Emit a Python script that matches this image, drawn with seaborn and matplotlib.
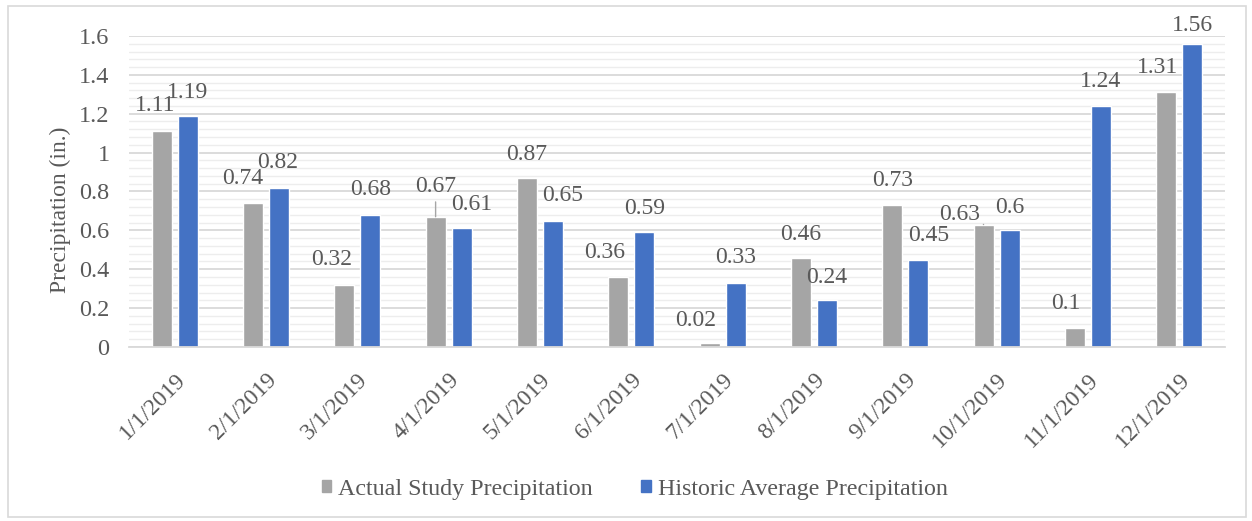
import pandas as pd
import numpy as np
import matplotlib.pyplot as plt
import matplotlib.patches as mpatches
from matplotlib.ticker import MultipleLocator
import seaborn as sns

# Monthly precipitation data (inches)
months = ['1/1/2019', '2/1/2019', '3/1/2019', '4/1/2019', '5/1/2019', '6/1/2019',
          '7/1/2019', '8/1/2019', '9/1/2019', '10/1/2019', '11/1/2019', '12/1/2019']
actual = [1.11, 0.74, 0.32, 0.67, 0.87, 0.36, 0.02, 0.46, 0.73, 0.63, 0.10, 1.31]
historic = [1.19, 0.82, 0.68, 0.61, 0.65, 0.59, 0.33, 0.24, 0.45, 0.60, 1.24, 1.56]
series = ['Actual Study Precipitation', 'Historic Average Precipitation']
label_text = [
    ['1.11', '0.74', '0.32', '0.67', '0.87', '0.36', '0.02', '0.46', '0.73', '0.63', '0.1', '1.31'],
    ['1.19', '0.82', '0.68', '0.61', '0.65', '0.59', '0.33', '0.24', '0.45', '0.6', '1.24', '1.56'],
]

# Excel-like label placement (pixel offsets from bar top)
label_offsets = [
    [(-6, 26), (-10, 25), (-13, 25), (0, 30), (0, 23), (-14, 25),
     (-14, 23), (0, 23), (0, 25), (-24, 10), (-9, 24), (-9, 25)],
    [(0, 23), (-1, 25), (0, 25), (10, 24), (10, 25), (0, 24),
     (0, 25), (0, 23), (10, 24), (0, 23), (0, 24), (0, 18)],
]
leader_lines = [(0, 3), (0, 9)]

df = pd.DataFrame({
    'Month': months * 2,
    'Series': [series[0]] * len(months) + [series[1]] * len(months),
    'Precipitation': actual + historic,
})

txt = '#595959'
sns.set_style('white')
plt.rcParams['font.family'] = ['Liberation Serif', 'DejaVu Serif']

fig = plt.figure(figsize=(12.52, 5.21), dpi=100)
ax = fig.add_axes([0.103, 0.334, 0.8754, 0.597])

sns.barplot(data=df, x='Month', y='Precipitation', hue='Series',
            hue_order=series, palette=['#a5a5a5', '#4472c4'],
            width=0.57, gap=0.23, ax=ax, legend=False, saturation=1)

ax.set_ylim(0, 1.6)
ax.set_xlim(-0.5, len(months) - 0.5)
ax.yaxis.set_major_locator(MultipleLocator(0.2))
ax.yaxis.set_minor_locator(MultipleLocator(0.04))
ax.grid(which='major', axis='y', color='#d9d9d9', lw=1.3)
ax.grid(which='minor', axis='y', color='#ededed', lw=1.0)
ax.set_axisbelow(True)
for s in ['top', 'right', 'left']:
    ax.spines[s].set_visible(False)
ax.spines['bottom'].set_color('#d9d9d9')
ax.spines['bottom'].set_linewidth(1.3)

ax.set_yticks(np.arange(0, 1.61, 0.2))
ax.set_yticklabels(['0', '0.2', '0.4', '0.6', '0.8', '1', '1.2', '1.4', '1.6'])
ax.tick_params(axis='y', which='both', length=0, pad=14, labelsize=17.5, labelcolor=txt)
ax.tick_params(axis='x', length=0, pad=16, labelsize=17, labelcolor=txt)
plt.setp(ax.get_xticklabels(), rotation=45, ha='right', rotation_mode='anchor')
ax.set_xlabel('')
ax.set_ylabel('Precipitation (in.)', fontsize=17, color=txt)
ax.yaxis.set_label_coords(-0.053, 0.44)

# Data labels
for si, cont in enumerate(ax.containers):
    for mi, bar in enumerate(cont):
        x = bar.get_x() + bar.get_width() / 2
        h = bar.get_height()
        dx, dy = label_offsets[si][mi]
        arrow = None
        if (si, mi) in leader_lines:
            arrow = dict(arrowstyle='-', color='#a5a5a5', lw=1, shrinkA=1, shrinkB=0)
        ax.annotate(label_text[si][mi], xy=(x, h), xytext=(dx, dy),
                    textcoords='offset pixels', ha='center', va='center',
                    fontsize=17, color=txt, arrowprops=arrow)

handles = [mpatches.Patch(color=c) for c in ['#a5a5a5', '#4472c4']]
fig.legend(handles, series, loc='center', bbox_to_anchor=(0.507, 0.061), ncol=2,
           frameon=False, fontsize=17.3, labelcolor=txt, handlelength=0.4,
           handleheight=0.4, handletextpad=0.3, columnspacing=2.0)

# Chart border
fig.patches.append(mpatches.Rectangle((0.006, 0.008), 0.989, 0.98, transform=fig.transFigure,
                                      fill=False, edgecolor='#d9d9d9', lw=1.2))

plt.savefig('out.png', dpi=100)
